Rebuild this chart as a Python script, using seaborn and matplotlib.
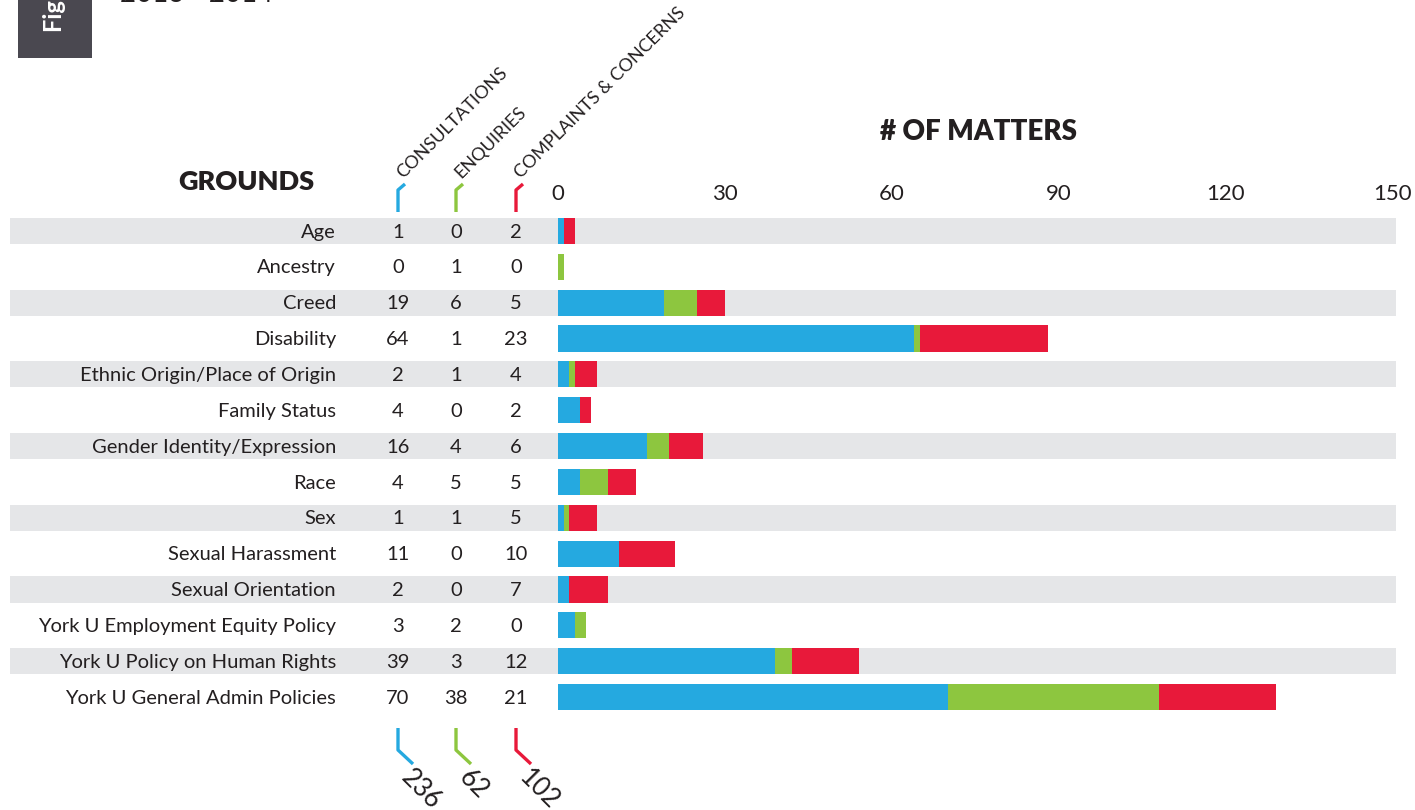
import matplotlib
matplotlib.use('Agg')
import matplotlib.pyplot as plt
import seaborn as sns
import pandas as pd

grounds = ['Age', 'Ancestry', 'Creed', 'Disability', 'Ethnic Origin/Place of Origin',
           'Family Status', 'Gender Identity/Expression', 'Race', 'Sex',
           'Sexual Harassment', 'Sexual Orientation', 'York U Employment Equity Policy',
           'York U Policy on Human Rights', 'York U General Admin Policies']
consultations = [1, 0, 19, 64, 2, 4, 16, 4, 1, 11, 2, 3, 39, 70]
enquiries = [0, 1, 6, 1, 1, 0, 4, 5, 1, 0, 0, 2, 3, 38]
complaints = [2, 0, 5, 23, 4, 2, 6, 5, 5, 10, 7, 0, 12, 21]
series_names = ['CONSULTATIONS', 'ENQUIRIES', 'COMPLAINTS & CONCERNS']
x_ticks = [0, 30, 60, 90, 120, 150]

BLUE = '#25A9E0'
GREEN = '#8DC63F'
RED = '#E8193A'
STRIPE = '#E5E6E8'
INK = '#231F20'

df = pd.DataFrame({'ground': grounds, 'cons': consultations,
                   'enq': enquiries, 'comp': complaints})
df['cons_enq'] = df['cons'] + df['enq']
df['total'] = df['cons_enq'] + df['comp']

sns.set_theme(style='white')
plt.rcParams['font.family'] = ['Lato', 'DejaVu Sans']

W, H = 1415, 810
fig = plt.figure(figsize=(W / 100, H / 100), dpi=100)
ax = fig.add_axes([0, 0, 1, 1])

# pixel layout of the reference: x=0 at 558px, 5.567px per matter; rows 35.85px apart
X0, XS = 558, (1393 - 558) / 150
Y0, YS = 231, 35.85


def px(x, y):
    return (x - X0) / XS, (y - Y0) / YS


# background stripes on every other row
for i in range(0, len(grounds), 2):
    ax.axhspan(i - 0.365, i + 0.365, xmin=10 / W, xmax=1396 / W, color=STRIPE, lw=0, zorder=0)

# stacked bars: draw cumulative totals, largest first
order = grounds
for col, c, z in [('total', RED, 2), ('cons_enq', GREEN, 3), ('cons', BLUE, 4)]:
    sns.barplot(data=df, x=col, y='ground', order=order, orient='h', color=c,
                saturation=1, width=0.73, linewidth=0, edgecolor='none', ax=ax, zorder=z)

ax.set_xlim(px(0, 0)[0], px(W, 0)[0])
ax.set_ylim(px(0, H)[1], px(0, 0)[1])
ax.axis('off')

# row labels and values
col_x = [398, 456, 516]
for i, row in df.iterrows():
    xl, _ = px(336, 0)
    ax.text(xl, i + 0.03, row['ground'], ha='right', va='center', fontsize=14.5, color=INK)
    for cx, key in zip(col_x, ['cons', 'enq', 'comp']):
        ax.text(px(cx, 0)[0], i + 0.03, str(row[key]), ha='center', va='center',
                fontsize=14.5, color=INK)

# x tick labels
for t in x_ticks:
    ax.text(t, px(0, 194)[1], str(t), ha='center', va='center', fontsize=16, color=INK)

ax.text(*px(246, 182), 'GROUNDS', ha='center', va='center', fontsize=19.5,
        fontweight='heavy', color=INK)
ax.text(*px(978, 132), '# OF MATTERS', ha='center', va='center', fontsize=20,
        fontweight='heavy', color=INK)

# column headers with brackets, and totals at the bottom
totals = [df['cons'].sum(), df['enq'].sum(), df['comp'].sum()]
for cx, name, total, c in zip(col_x, series_names, totals, [BLUE, GREEN, RED]):
    xs, ys = zip(px(cx, 212), px(cx, 190), px(cx + 7, 184))
    ax.plot(xs, ys, color=c, lw=2.4, solid_capstyle='butt')
    ax.text(*px(cx + 7, 181), name, rotation=45, rotation_mode='anchor',
            ha='left', va='bottom', fontsize=13, color=INK)
    xs, ys = zip(px(cx, 728), px(cx, 750), px(cx + 15, 764))
    ax.plot(xs, ys, color=c, lw=2.4, solid_capstyle='butt')
    ax.text(*px(cx + 16, 765), str(total), rotation=-45, rotation_mode='anchor',
            ha='left', va='top', fontsize=18.5, color=INK)

# cropped figure tab in the top-left corner
ax.axvspan(px(18, 0)[0], px(92, 0)[0], ymin=1 - 58 / H, ymax=1, color='#4A4850', lw=0)
ax.text(*px(55, 32), 'Figure 2', rotation=90, ha='center', va='bottom',
        fontsize=17, fontweight='bold', color='white', clip_on=True)
ax.text(*px(120, 2), '2013 - 2014', ha='left', va='baseline', fontsize=20,
        color=INK, clip_on=True)

fig.savefig('out.png', dpi=100)
